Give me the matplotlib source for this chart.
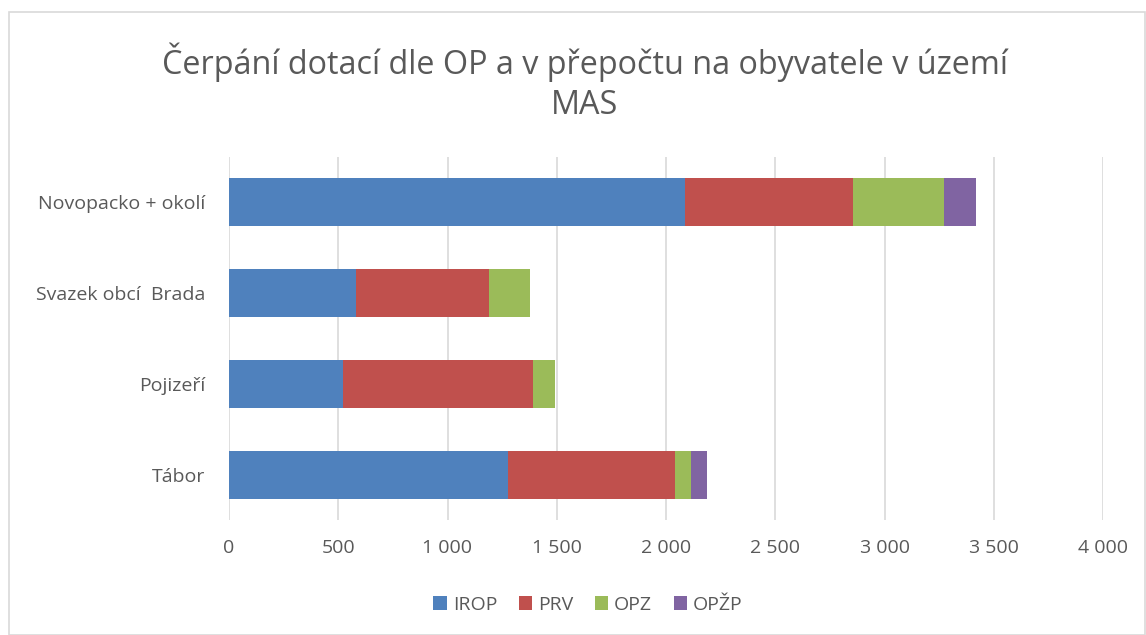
import matplotlib.pyplot as plt
import numpy as np
from matplotlib.patches import Rectangle

plt.rcParams["font.family"] = ["Open Sans", "DejaVu Sans"]

regions = ["Tábor", "Pojizeří", "Svazek obcí  Brada", "Novopacko + okolí"]
irop = [1276, 522, 580, 2087]
prv = [765, 871, 612, 767]
opz = [72, 99, 187, 420]
opzp = [73, 0, 0, 145]
series = [("IROP", irop, "#4f81bd"), ("PRV", prv, "#c0504d"),
          ("OPZ", opz, "#9bbb59"), ("OPŽP", opzp, "#8064a2")]
xticks = [0, 500, 1000, 1500, 2000, 2500, 3000, 3500, 4000]
xtick_labels = ["0", "500", "1 000", "1 500", "2 000", "2 500", "3 000", "3 500", "4 000"]

fig = plt.figure(figsize=(11.46, 6.35), dpi=100)
fig.patches.append(Rectangle((9 / 1146, 0), 1 - 9 / 1146 - 0.001, 1 - 12 / 635,
                             transform=fig.transFigure, fill=False,
                             edgecolor="#d9d9d9", linewidth=1.2))

ax = fig.add_axes([229 / 1146, 1 - 520 / 635, (1103 - 229) / 1146, (520 - 157) / 635])
y = np.arange(len(regions))
left = np.zeros(len(regions))
for name, vals, color in series:
    ax.barh(y, vals, left=left, height=0.53, color=color, label=name, zorder=3)
    left += np.array(vals)

ax.set_xlim(0, 4000)
ax.set_ylim(-0.5, len(regions) - 0.5)
ax.set_xticks(xticks)
ax.set_xticklabels(xtick_labels)
ax.set_yticks(y)
ax.set_yticklabels(regions)
ax.tick_params(axis="both", length=0, labelsize=14, colors="#595959")
ax.tick_params(axis="x", pad=14)
ax.tick_params(axis="y", pad=17)
ax.grid(axis="x", color="#d9d9d9", linewidth=1.2, zorder=0)
for s in ax.spines.values():
    s.set_visible(False)

fig.text(585 / 1146, 1 - 82 / 635, "Čerpání dotací dle OP a v přepočtu na obyvatele v území\nMAS",
         ha="center", va="center", fontsize=23.3, color="#595959", linespacing=1.3)

fig.legend(loc="center", bbox_to_anchor=(588 / 1146, 1 - 605 / 635), ncol=4, frameon=False,
           fontsize=14, labelcolor="#595959", handlelength=0.7, handleheight=0.7,
           handletextpad=0.3, columnspacing=1.1)

fig.savefig("out.png", dpi=100)
